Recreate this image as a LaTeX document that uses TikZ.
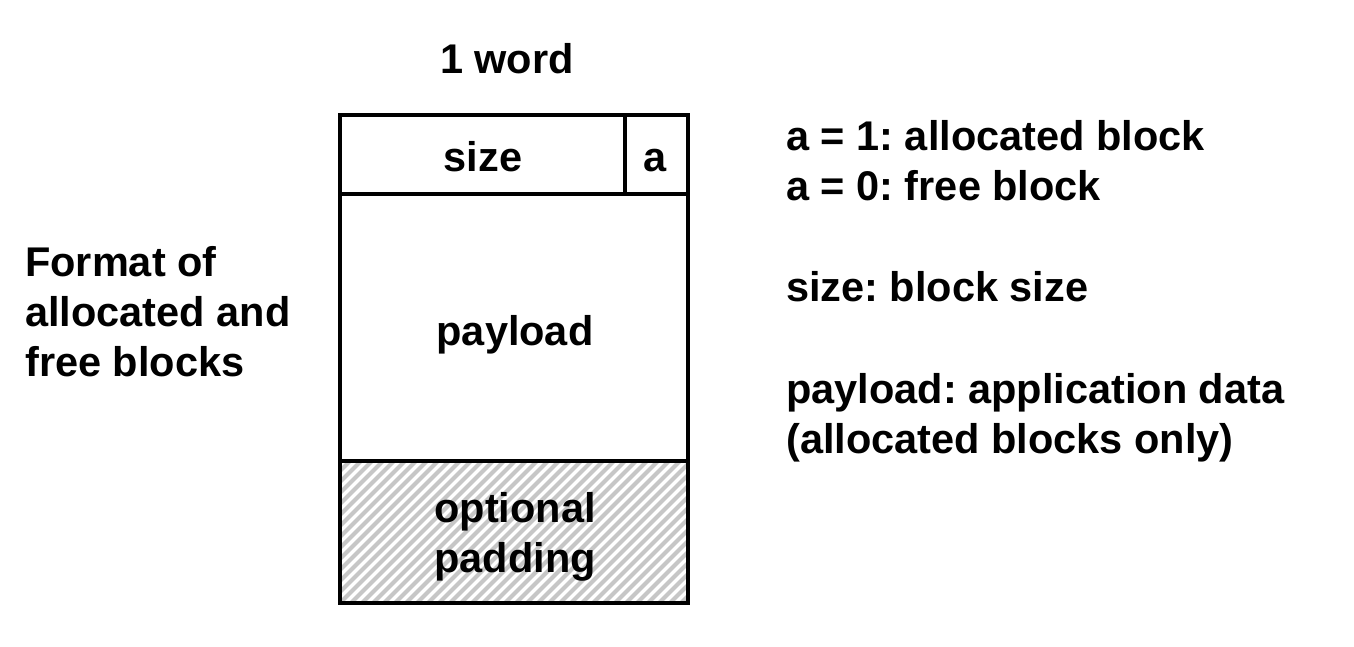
\documentclass[tikz,border=0pt]{standalone}
\usepackage{fontspec}
\setmainfont{Liberation Sans}
\frenchspacing
\begin{document}
\begin{tikzpicture}[x=1pt,y=-1pt,
  cell/.style={draw,line width=4pt,inner sep=0pt,outer sep=0pt,anchor=north west},
  lbl/.style={font=\bfseries\fontsize{41.5}{50}\selectfont,inner sep=0pt},
  txt/.style={lbl,anchor=base west,align=left}]
\useasboundingbox[fill=white] (0,0) rectangle (1354,646);
% hatching
\begin{scope}
\clip (340,461) rectangle (688,603);
\foreach \i in {-154,-143,...,360}{
  \draw[gray!45,line width=4pt] (340+\i,603) -- (340+\i+142,461);
}
\end{scope}
\node[cell,minimum width=285pt,minimum height=79pt] (size) at (340,115) {};
\node[cell,minimum width=63pt,minimum height=79pt] (abit) at (625,115) {};
\node[cell,minimum width=348pt,minimum height=267pt] (payload) at (340,194) {};
\node[cell,minimum width=348pt,minimum height=142pt] (pad) at (340,461) {};
\node[lbl,anchor=base] (sizet) at (483,171) {size};
\node[lbl,anchor=base] (at) at (655,171) {a};
\node[lbl,anchor=base] (payt) at (515,345) {payload};
\node[lbl,align=center,anchor=base] (padt) at (515,572) {optional\\padding};
\node[lbl,anchor=base] (word) at (507,73) {1 word};
\node[txt] (fmt) at (25,376) {Format of\\allocated and\\free blocks};
\node[txt] (alloc) at (786,200) {a = 1: allocated block\\a = 0: free block};
\node[txt] (sz) at (786,301) {size: block size};
\node[txt] (pl) at (786,453) {payload: application data\\(allocated blocks only)};
\end{tikzpicture}
\end{document}
